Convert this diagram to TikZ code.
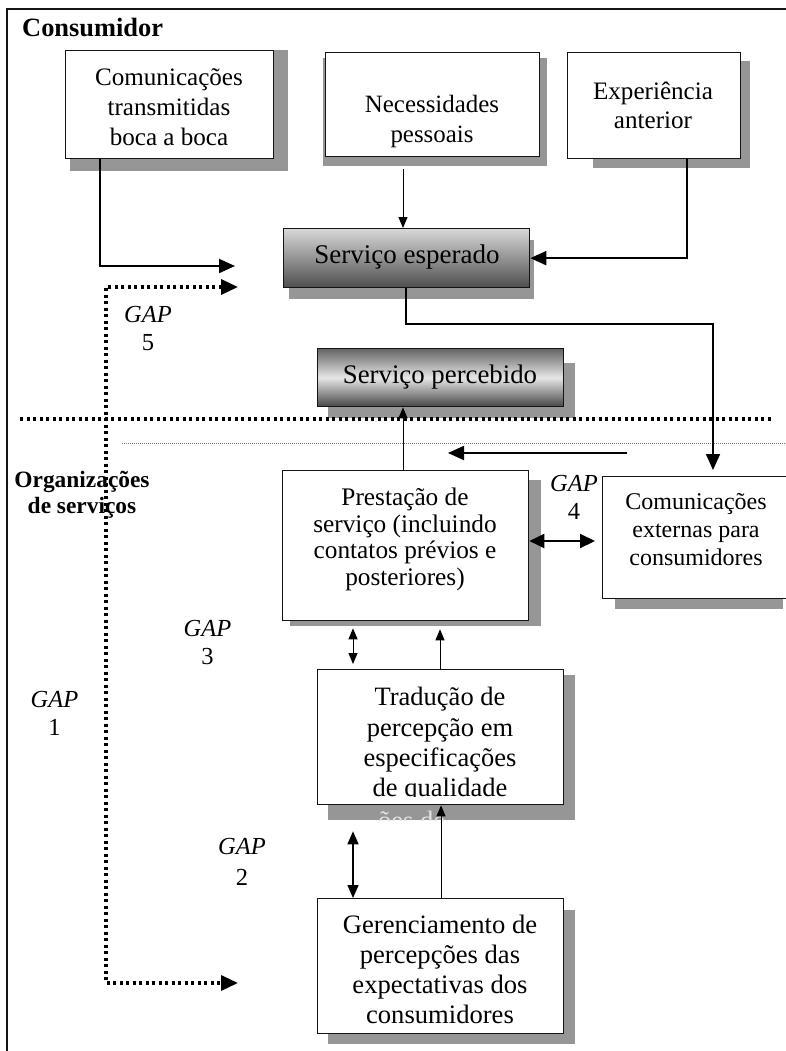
\documentclass[tikz,border=0pt]{standalone}
\usepackage{fontspec}
\setmainfont{Liberation Serif}
\usetikzlibrary{arrows.meta}

\definecolor{shadowgray}{RGB}{150,150,150}
\definecolor{ink}{RGB}{20,20,20}
\definecolor{espTop}{RGB}{216,216,216}
\definecolor{espBot}{RGB}{78,78,78}
\definecolor{perTop}{RGB}{100,100,100}
\definecolor{perMid}{RGB}{230,230,230}
\definecolor{perBot}{RGB}{70,70,70}
\definecolor{ghost}{RGB}{228,228,228}
\definecolor{hair}{RGB}{120,120,120}

\newcommand{\fsz}[2]{\fontsize{#1}{#2}\selectfont}

\begin{document}
\begin{tikzpicture}[x=1pt,y=-1pt,
  panel/.style={draw=ink, line width=1.3pt, fill=white, inner sep=0pt, anchor=north west},
  txt/.style={inner sep=0pt, align=center, text=black},
  heavy/.style={draw=black, line width=2pt, -{Triangle[length=16pt,width=14pt]}},
  light/.style={draw=black, line width=1pt, -{Triangle[length=11pt,width=9pt]}},
  twoheads/.style={{Triangle[length=15pt,width=14pt]}-{Triangle[length=15pt,width=14pt]}},
  twosmall/.style={{Triangle[length=11pt,width=9pt]}-{Triangle[length=11pt,width=9pt]}},
  twomid/.style={{Triangle[length=13pt,width=11pt]}-{Triangle[length=13pt,width=11pt]}},
  dotline/.style={draw=black, line width=3.3pt, dash pattern=on 3.3pt off 3.2pt},
  gapl/.style={inner sep=0pt, align=center, font=\fsz{24.5}{28}},
]
\clip (0,0) rectangle (786,1051);
\fill[white] (0,0) rectangle (786,1051);

% outer frame (continues past the right and bottom edges)
\draw[line width=2.2pt, ink] (7,1100) -- (7,9) -- (820,9);

% drop shadows
\fill[shadowgray] (70,50) rectangle (288,171);
\fill[shadowgray] (323,58) rectangle (547,166);
\fill[shadowgray] (593,61) rectangle (750,168);
\fill[shadowgray] (289,240) rectangle (534,299);
\fill[shadowgray] (328,363) rectangle (575,418);
\fill[shadowgray] (290,480) rectangle (541,626);
\fill[shadowgray] (615,490) rectangle (783,609);
\fill[shadowgray] (328,675) rectangle (575,820);
\fill[shadowgray] (328,910) rectangle (575,1044);

% overflow line left behind the quality box, seen only on its shadow
\begin{scope}
  \clip (328,804) rectangle (575,820);
  \node[inner sep=0pt, anchor=base west, text=ghost, font=\fsz{26.5}{30}] (overflow) at (378,829) {ões de};
\end{scope}

% boxes
\node[panel, minimum width=208pt, minimum height=108pt] (comm) at (65,50) {};
\node[panel, minimum width=214pt, minimum height=104pt] (nec) at (325,52) {};
\node[panel, minimum width=173pt, minimum height=106pt] (exp) at (567,52) {};
\node[panel, minimum width=246pt, minimum height=59pt, top color=espTop, bottom color=espBot] (esp) at (283,228) {};
\node[panel, minimum width=246pt, minimum height=58pt, top color=perTop, bottom color=perBot, middle color=perMid] (perc) at (317,348) {};
\node[panel, minimum width=246pt, minimum height=150pt] (prest) at (282,470) {};
\node[panel, minimum width=198pt, minimum height=122pt] (ext) at (602,476) {};
\node[panel, minimum width=246pt, minimum height=135pt] (trad) at (317,669) {};
\node[panel, minimum width=246pt, minimum height=135pt] (ger) at (317,898) {};

% box texts
\node[txt, font=\fsz{25.1}{30}] (commT) at (169,107) {Comunicações\\transmitidas\\boca a boca};
\node[txt, font=\fsz{24.9}{30}] (necT) at (432,122) {Necessidades\\pessoais};
\node[txt, font=\fsz{25.1}{29}] (expT) at (653,105.5) {Experiência\\anterior};
\node[txt, font=\fsz{27}{30}] (espT) at (407,257) {Serviço esperado};
\node[txt, font=\fsz{26.8}{30}] (percT) at (440,377) {Serviço percebido};
\node[txt, font=\fsz{25.3}{26.7}] (prestT) at (405,539.5) {Prestação de\\serviço (incluindo\\contatos prévios e\\posteriores)};
\node[txt, font=\fsz{24}{28}] (extT) at (696,530) {Comunicações\\externas para\\consumidores};
\begin{scope}
  \clip (318,670) rectangle (562,796);
  \node[txt, font=\fsz{26.5}{30.3}] (tradT) at (440,745) {Tradução de\\percepção em\\especificações\\de qualidade};
\end{scope}
\node[txt, font=\fsz{26.6}{30}] (gerT) at (440,969) {Gerenciamento de\\percepções das\\expectativas dos\\consumidores};

% section headings
\node[inner sep=0pt, anchor=base west, font=\fsz{26.4}{30}\bfseries] (cons) at (22,36.5) {Consumidor};
\node[txt, font=\fsz{23.4}{26.3}\bfseries] (org) at (82,495) {Organizações\\de serviços};

% gap labels
\node[gapl] (gap5) at (148,328.7) {\textit{GAP}\\5};
\node[gapl] (gap4) at (574,497) {\textit{GAP}\\4};
\node[gapl] (gap3) at (207.5,642.6) {\textit{GAP}\\3};
\node[gapl] (gap1) at (54.5,713.6) {\textit{GAP}\\1};
\node[gapl, font=\fsz{24.5}{31}] (gap2) at (242,861.7) {\textit{GAP}\\2};

% boundary between consumer and provider
\coordinate (s1) at (20,419);
\coordinate (s2) at (773,419);
\draw[dotline] (s1) -- (s2);
\coordinate (h1) at (122,443);
\coordinate (h2) at (786,443);
\draw[hair, line width=0.8pt, dash pattern=on 1pt off 1pt] (h1) -- (h2);

% gap 1 / gap 5 dotted connector
\coordinate (d1) at (238,287);
\coordinate (d2) at (106,287);
\coordinate (d3) at (106,983);
\coordinate (d4) at (238,983);
\draw[dotline, {Triangle[length=17pt,width=15pt]}-{Triangle[length=17pt,width=15pt]}] (d1) -- (d2) -- (d3) -- (d4);

% connectors
\coordinate (k1) at (100,266);
\coordinate (w1) at (235,266);
\draw[heavy] (comm.south -| k1) -- (k1) -- (w1);

\coordinate (k2) at (403,0);
\draw[light] ([yshift=-12pt]nec.south -| k2) -- (esp.north -| k2);

\coordinate (k3) at (687,0);
\draw[heavy] (exp.south -| k3) |- (esp.east);

\coordinate (t1) at (406,324);
\coordinate (t2) at (713,324);
\draw[heavy, line width=1.7pt, shorten >=6pt] (esp.south -| t1) -- (t1) -- (t2) -- (ext.north -| t2);

\coordinate (k5) at (403,0);
\draw[light] (prest.north -| k5) -- (perc.south -| k5);

\coordinate (la1) at (627,453);
\coordinate (la2) at (448,453);
\draw[heavy] (la1) -- (la2);

\coordinate (g4) at (0,541);
\draw[heavy, twoheads, shorten >=7pt] (prest.east |- g4) -- (ext.west |- g4);

\coordinate (g3) at (353,0);
\draw[light, twosmall, shorten <=7pt, shorten >=5pt] (prest.south -| g3) -- (trad.north -| g3);

\coordinate (k9) at (440,0);
\draw[light, shorten >=8pt] (trad.north -| k9) -- (prest.south -| k9);

\draw[light, line width=1.5pt, twomid, shorten <=26pt] (trad.south -| g3) -- (ger.north -| g3);

\coordinate (k11) at (441,0);
\draw[light] (ger.north -| k11) -- (trad.south -| k11);
\end{tikzpicture}
\end{document}
